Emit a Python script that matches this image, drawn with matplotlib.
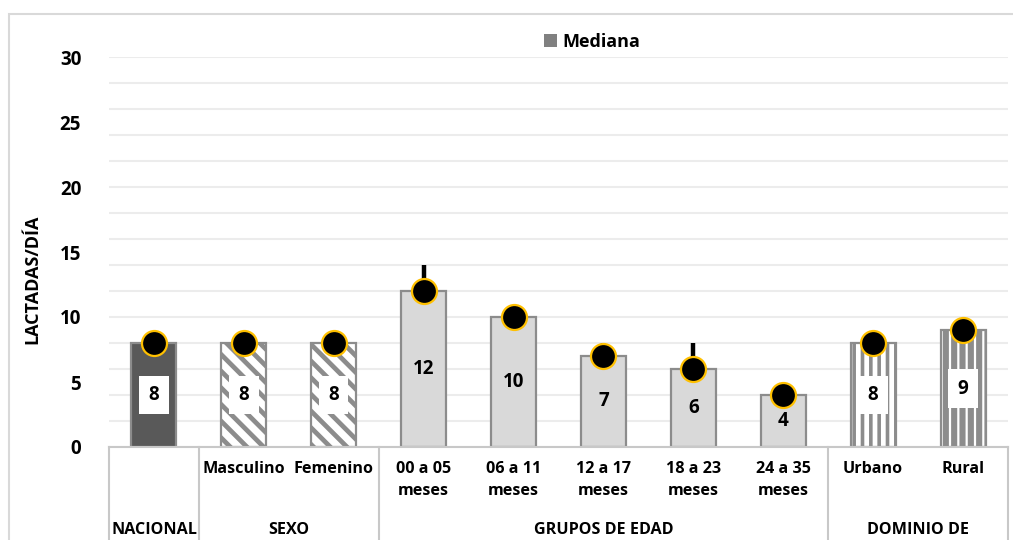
import matplotlib
matplotlib.use("Agg")
import matplotlib.pyplot as plt
from matplotlib.patches import Patch, Rectangle
from matplotlib.ticker import MultipleLocator
import numpy as np

plt.rcParams['font.family'] = ['Open Sans', 'DejaVu Sans']
plt.rcParams['font.weight'] = 'bold'

# --- data -------------------------------------------------------------
categories = ["", "Masculino", "Femenino", "00 a 05\nmeses", "06 a 11\nmeses",
              "12 a 17\nmeses", "18 a 23\nmeses", "24 a 35\nmeses", "Urbano", "Rural"]
medians = [8, 8, 8, 12, 10, 7, 6, 4, 8, 9]
upper_err = [0, 0, 0, 2, 0, 1, 2, 0, 0, 0]
groups = ["NACIONAL", "SEXO", "GRUPOS DE EDAD", "DOMINIO DE"]
group_sizes = [1, 2, 5, 2]
series_name = "Mediana"
y_label = "LACTADAS/DÍA"
y_ticks = [0, 5, 10, 15, 20, 25, 30]

# --- styling per bar --------------------------------------------------
edge = "#8c8c8c"
fills = ["#595959", "white", "white"] + ["#d9d9d9"] * 5 + ["white", "white"]
hatches = [None, "\\\\", "\\\\", None, None, None, None, None, "||", "||"]
hatch_lw = [1, 3.4, 3.4, 1, 1, 1, 1, 1, 2.6, 4.4]
boxed = [True, True, True, False, False, False, False, False, True, True]

fig = plt.figure(figsize=(10.13, 5.40), dpi=100)
ax = fig.add_axes([109 / 1013, 93 / 540, 899 / 1013, 390 / 540])

x = np.arange(len(medians))
for i in range(len(medians)):
    plt.rcParams['hatch.linewidth'] = hatch_lw[i]
    ax.bar(x[i], medians[i], width=0.5, color=fills[i], edgecolor=edge,
           linewidth=1.6, hatch=hatches[i], zorder=2)

ax.errorbar(x, medians, yerr=[np.zeros(len(medians)), upper_err], fmt="none",
            ecolor="black", elinewidth=3.2, capsize=0, zorder=3)
ax.plot(x, medians, "o", ms=18, mfc="black", mec="#FFC000", mew=1.6, zorder=4)

for i, v in enumerate(medians):
    bbox = dict(boxstyle="square,pad=0.5", fc="white", ec="none") if boxed[i] else None
    ax.text(x[i], v / 2, str(v), ha="center", va="center", fontsize=13.5,
            fontweight="bold", color="black", bbox=bbox, zorder=5)

ax.set_xlim(-0.5, len(medians) - 0.5)
ax.set_ylim(0, 30)
ax.set_yticks(y_ticks)
ax.yaxis.set_minor_locator(MultipleLocator(2))
ax.yaxis.remove_overlapping_locs = False
ax.grid(False, which="major")
ax.grid(True, which="minor", axis="y", color="#ececec", linewidth=1.5, zorder=0)
ax.set_axisbelow(True)
ax.tick_params(axis="y", which="both", length=0, pad=20, labelsize=13.5)
ax.tick_params(axis="x", which="both", length=0, labelbottom=False)
for lbl in ax.get_yticklabels():
    lbl.set_fontweight("bold")
for s in ["top", "right", "left"]:
    ax.spines[s].set_visible(False)
ax.spines["bottom"].set_color("#c8c8c8")
ax.spines["bottom"].set_linewidth(1.5)

ax.set_ylabel(y_label, fontsize=13, fontweight="bold")
ax.yaxis.set_label_coords(-0.0756, 0.431)

# category table below the axis
trans = ax.get_xaxis_transform()
for i, lab in enumerate(categories):
    if lab:
        ax.text(x[i], -0.037, lab, transform=trans, ha="center", va="top",
                fontsize=11.6, fontweight="bold", linespacing=1.45)

bounds = np.concatenate([[0], np.cumsum(group_sizes)]) - 0.5
for b in bounds:
    ax.plot([b, b], [0, -0.4], transform=trans, color="#c8c8c8", lw=1.5,
            clip_on=False, zorder=1)
for g, lo, hi in zip(groups, bounds[:-1], bounds[1:]):
    ax.text((lo + hi) / 2, -0.213, g, transform=trans, ha="center", va="center",
            fontsize=11.6, fontweight="bold")

# legend
fig.legend(handles=[Patch(facecolor="#808080", edgecolor="none", label=series_name)],
           loc="center", bbox_to_anchor=(592 / 1013, 1 - 42 / 540), frameon=False,
           handlelength=0.7, handleheight=0.7, handletextpad=0.3,
           prop={"weight": "bold", "size": 13})

# chart border
fig.add_artist(Rectangle((9 / 1013, -0.2), 1.2, 0.2 + 526 / 540,
                         transform=fig.transFigure, fill=False,
                         edgecolor="#d9d9d9", linewidth=1.5))

fig.savefig("out.png", dpi=100)
